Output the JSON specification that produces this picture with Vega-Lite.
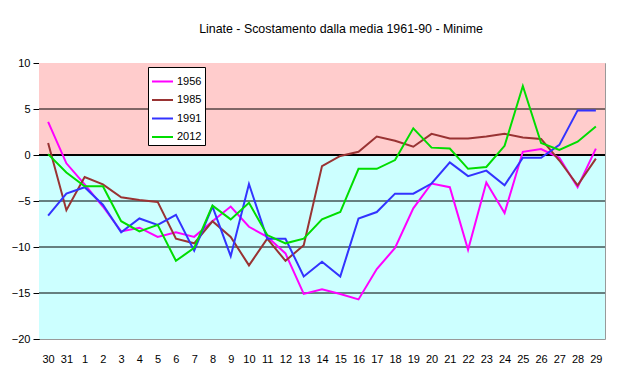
{
  "$schema": "https://vega.github.io/schema/vega-lite/v6.json",
  "autosize": "none",
  "width": 566,
  "height": 276,
  "padding": {"left": 39, "top": 63, "right": 30, "bottom": 42},
  "background": "white",
  "title": {
    "text": "Linate - Scostamento dalla media 1961-90 - Minime",
    "font": "Liberation Sans",
    "fontSize": 12.4,
    "fontWeight": "normal",
    "color": "black",
    "offset": 22,
    "dx": 19
  },
  "config": {
    "view": {"stroke": "#999999", "strokeWidth": 1},
    "axis": {"labelFont": "Liberation Sans", "labelFontSize": 11, "labelColor": "black"},
    "legend": {"labelFont": "Liberation Sans"}
  },
  "datasets": {
    "series": [
      {"day": "30", "year": "1956", "v": 3.6}, {"day": "31", "year": "1956", "v": -0.9}, {"day": "1", "year": "1956", "v": -3.2}, {"day": "2", "year": "1956", "v": -5.6}, {"day": "3", "year": "1956", "v": -8.3}, {"day": "4", "year": "1956", "v": -7.9}, {"day": "5", "year": "1956", "v": -8.9}, {"day": "6", "year": "1956", "v": -8.4}, {"day": "7", "year": "1956", "v": -8.9}, {"day": "8", "year": "1956", "v": -7.2}, {"day": "9", "year": "1956", "v": -5.6}, {"day": "10", "year": "1956", "v": -7.8}, {"day": "11", "year": "1956", "v": -8.9}, {"day": "12", "year": "1956", "v": -10.7}, {"day": "13", "year": "1956", "v": -15.1}, {"day": "14", "year": "1956", "v": -14.6}, {"day": "15", "year": "1956", "v": -15.1}, {"day": "16", "year": "1956", "v": -15.7}, {"day": "17", "year": "1956", "v": -12.4}, {"day": "18", "year": "1956", "v": -10.1}, {"day": "19", "year": "1956", "v": -5.8}, {"day": "20", "year": "1956", "v": -3.1}, {"day": "21", "year": "1956", "v": -3.5}, {"day": "22", "year": "1956", "v": -10.3}, {"day": "23", "year": "1956", "v": -3.0}, {"day": "24", "year": "1956", "v": -6.3}, {"day": "25", "year": "1956", "v": 0.35}, {"day": "26", "year": "1956", "v": 0.65}, {"day": "27", "year": "1956", "v": -0.3}, {"day": "28", "year": "1956", "v": -3.5}, {"day": "29", "year": "1956", "v": 0.7},
      {"day": "30", "year": "1985", "v": 1.3}, {"day": "31", "year": "1985", "v": -6.0}, {"day": "1", "year": "1985", "v": -2.4}, {"day": "2", "year": "1985", "v": -3.2}, {"day": "3", "year": "1985", "v": -4.6}, {"day": "4", "year": "1985", "v": -4.9}, {"day": "5", "year": "1985", "v": -5.1}, {"day": "6", "year": "1985", "v": -9.1}, {"day": "7", "year": "1985", "v": -9.6}, {"day": "8", "year": "1985", "v": -7.2}, {"day": "9", "year": "1985", "v": -8.9}, {"day": "10", "year": "1985", "v": -12.0}, {"day": "11", "year": "1985", "v": -9.1}, {"day": "12", "year": "1985", "v": -11.5}, {"day": "13", "year": "1985", "v": -9.8}, {"day": "14", "year": "1985", "v": -1.2}, {"day": "15", "year": "1985", "v": -0.1}, {"day": "16", "year": "1985", "v": 0.35}, {"day": "17", "year": "1985", "v": 2.0}, {"day": "18", "year": "1985", "v": 1.55}, {"day": "19", "year": "1985", "v": 0.9}, {"day": "20", "year": "1985", "v": 2.3}, {"day": "21", "year": "1985", "v": 1.8}, {"day": "22", "year": "1985", "v": 1.8}, {"day": "23", "year": "1985", "v": 2.0}, {"day": "24", "year": "1985", "v": 2.3}, {"day": "25", "year": "1985", "v": 1.9}, {"day": "26", "year": "1985", "v": 1.75}, {"day": "27", "year": "1985", "v": -0.6}, {"day": "28", "year": "1985", "v": -3.3}, {"day": "29", "year": "1985", "v": -0.4},
      {"day": "30", "year": "1991", "v": -6.6}, {"day": "31", "year": "1991", "v": -4.2}, {"day": "1", "year": "1991", "v": -3.5}, {"day": "2", "year": "1991", "v": -5.4}, {"day": "3", "year": "1991", "v": -8.4}, {"day": "4", "year": "1991", "v": -6.9}, {"day": "5", "year": "1991", "v": -7.6}, {"day": "6", "year": "1991", "v": -6.5}, {"day": "7", "year": "1991", "v": -10.4}, {"day": "8", "year": "1991", "v": -5.6}, {"day": "9", "year": "1991", "v": -11.0}, {"day": "10", "year": "1991", "v": -3.15}, {"day": "11", "year": "1991", "v": -9.1}, {"day": "12", "year": "1991", "v": -9.1}, {"day": "13", "year": "1991", "v": -13.2}, {"day": "14", "year": "1991", "v": -11.6}, {"day": "15", "year": "1991", "v": -13.2}, {"day": "16", "year": "1991", "v": -6.9}, {"day": "17", "year": "1991", "v": -6.2}, {"day": "18", "year": "1991", "v": -4.2}, {"day": "19", "year": "1991", "v": -4.2}, {"day": "20", "year": "1991", "v": -3.1}, {"day": "21", "year": "1991", "v": -0.8}, {"day": "22", "year": "1991", "v": -2.3}, {"day": "23", "year": "1991", "v": -1.7}, {"day": "24", "year": "1991", "v": -3.3}, {"day": "25", "year": "1991", "v": -0.3}, {"day": "26", "year": "1991", "v": -0.3}, {"day": "27", "year": "1991", "v": 1.1}, {"day": "28", "year": "1991", "v": 4.85}, {"day": "29", "year": "1991", "v": 4.85},
      {"day": "30", "year": "2012", "v": 0.1}, {"day": "31", "year": "2012", "v": -1.9}, {"day": "1", "year": "2012", "v": -3.4}, {"day": "2", "year": "2012", "v": -3.4}, {"day": "3", "year": "2012", "v": -7.2}, {"day": "4", "year": "2012", "v": -8.3}, {"day": "5", "year": "2012", "v": -7.6}, {"day": "6", "year": "2012", "v": -11.5}, {"day": "7", "year": "2012", "v": -10.1}, {"day": "8", "year": "2012", "v": -5.5}, {"day": "9", "year": "2012", "v": -7.0}, {"day": "10", "year": "2012", "v": -5.2}, {"day": "11", "year": "2012", "v": -8.7}, {"day": "12", "year": "2012", "v": -9.6}, {"day": "13", "year": "2012", "v": -9.1}, {"day": "14", "year": "2012", "v": -7.0}, {"day": "15", "year": "2012", "v": -6.2}, {"day": "16", "year": "2012", "v": -1.5}, {"day": "17", "year": "2012", "v": -1.5}, {"day": "18", "year": "2012", "v": -0.55}, {"day": "19", "year": "2012", "v": 2.9}, {"day": "20", "year": "2012", "v": 0.8}, {"day": "21", "year": "2012", "v": 0.7}, {"day": "22", "year": "2012", "v": -1.5}, {"day": "23", "year": "2012", "v": -1.3}, {"day": "24", "year": "2012", "v": 1.0}, {"day": "25", "year": "2012", "v": 7.5}, {"day": "26", "year": "2012", "v": 1.3}, {"day": "27", "year": "2012", "v": 0.55}, {"day": "28", "year": "2012", "v": 1.45}, {"day": "29", "year": "2012", "v": 3.1}
    ]
  },
  "layer": [
    {
      "data": {"values": [{"lo": 0, "hi": 10}]},
      "mark": {"type": "rect", "fill": "#FFCCCC"},
      "encoding": {
        "y": {
          "field": "lo", "type": "quantitative",
          "scale": {"domain": [-20, 10], "nice": false, "zero": false},
          "axis": {
            "title": null, "values": [-20, -15, -10, -5, 0, 5, 10], "grid": false,
            "domainColor": "black", "tickColor": "black", "tickSize": 6, "labelPadding": 3
          }
        },
        "y2": {"field": "hi"}
      }
    },
    {
      "data": {"values": [{"lo": -20, "hi": 0}]},
      "mark": {"type": "rect", "fill": "#CCFFFF"},
      "encoding": {
        "y": {"field": "lo", "type": "quantitative"},
        "y2": {"field": "hi"}
      }
    },
    {
      "data": {"values": [{"g": 5}, {"g": -5}, {"g": -10}, {"g": -15}]},
      "mark": {"type": "rule", "stroke": "black", "strokeWidth": 1},
      "encoding": {"y": {"field": "g", "type": "quantitative"}}
    },
    {
      "data": {"values": [{"g": 0}]},
      "mark": {"type": "rule", "stroke": "black", "strokeWidth": 2},
      "encoding": {"y": {"field": "g", "type": "quantitative"}}
    },
    {
      "data": {"name": "series"},
      "mark": {"type": "line", "strokeWidth": 2},
      "encoding": {
        "x": {
          "field": "day", "type": "ordinal",
          "sort": ["30","31","1","2","3","4","5","6","7","8","9","10","11","12","13","14","15","16","17","18","19","20","21","22","23","24","25","26","27","28","29"],
          "scale": {"padding": 0.5},
          "axis": {"title": null, "labelAngle": 0, "ticks": false, "domain": false, "labelPadding": 14}
        },
        "y": {"field": "v", "type": "quantitative"},
        "color": {
          "field": "year", "type": "nominal",
          "scale": {"domain": ["1956", "1985", "1991", "2012"], "range": ["#FF00FF", "#993333", "#3333FF", "#00DD00"]},
          "legend": {
            "title": null, "orient": "none", "legendX": 109, "legendY": 4,
            "symbolType": "stroke", "symbolSize": 441, "symbolStrokeWidth": 2,
            "labelFontSize": 11, "labelColor": "black", "labelOffset": 3,
            "fillColor": "white", "strokeColor": "black", "padding": 3, "rowPadding": 1.5
          }
        }
      }
    }
  ]
}
